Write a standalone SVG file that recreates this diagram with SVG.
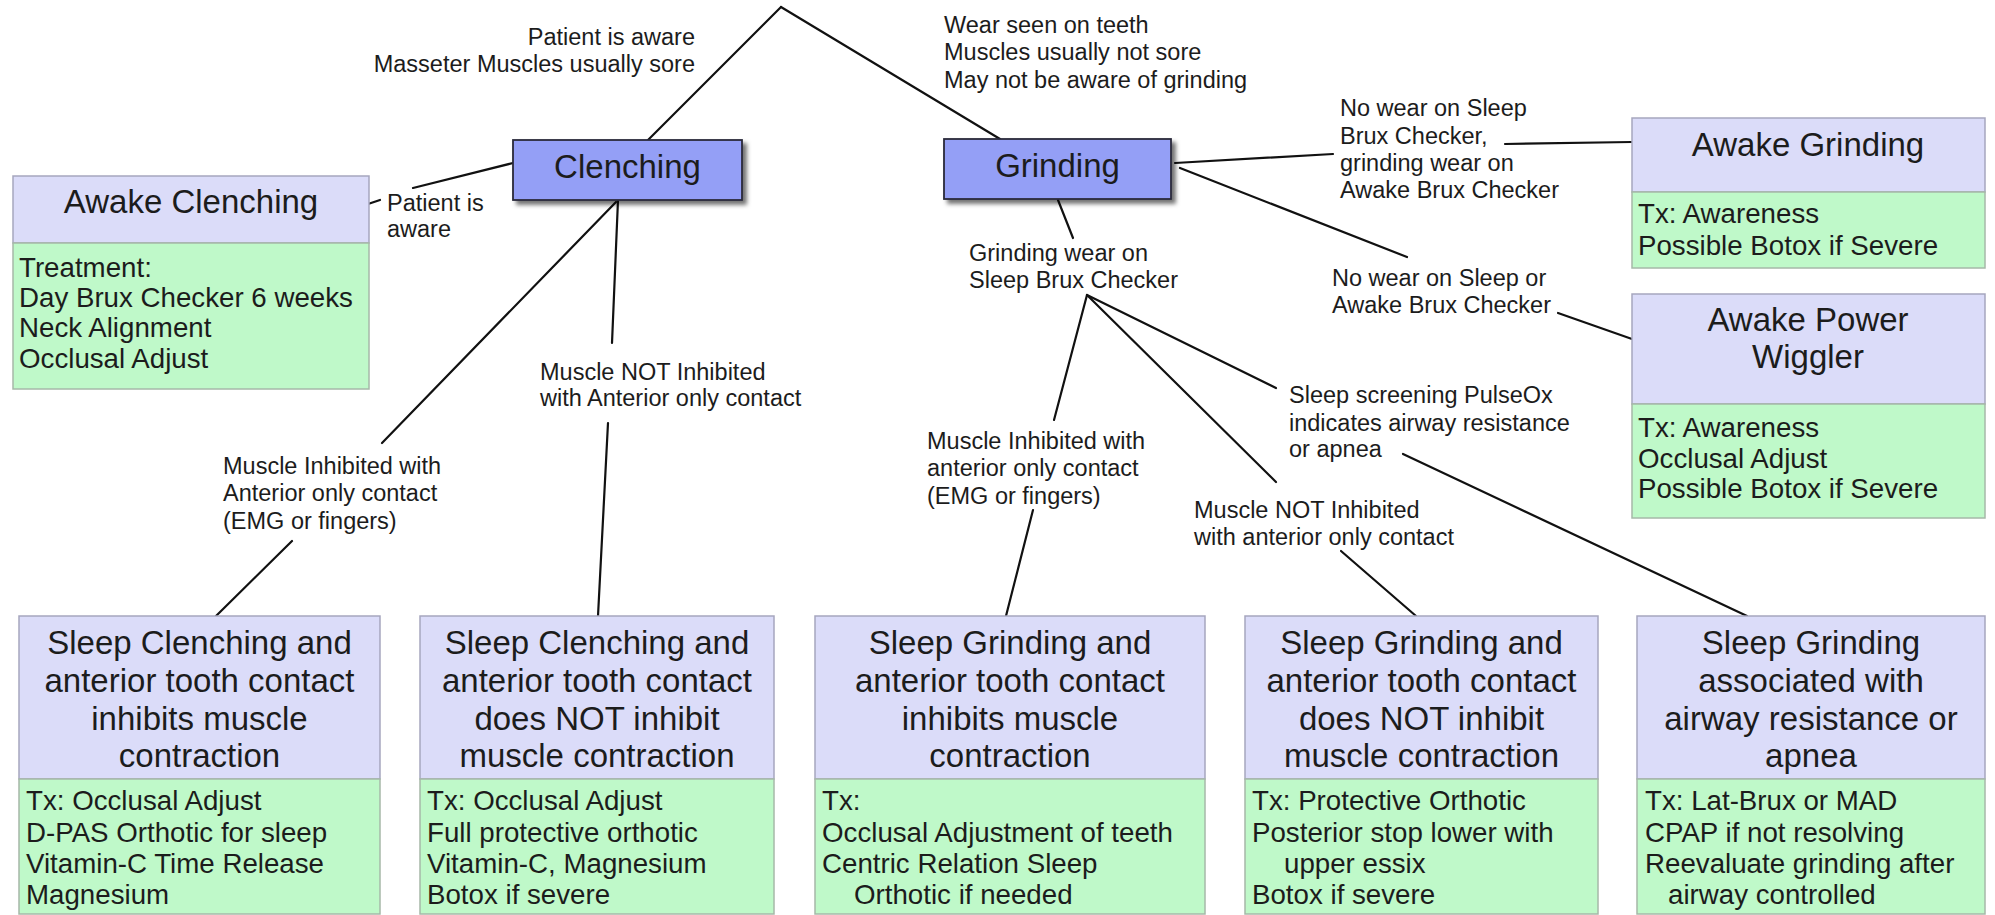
<svg xmlns="http://www.w3.org/2000/svg" width="1995" height="915" viewBox="0 0 1995 915">
<defs>
<style>
text{font-family:"Liberation Sans",Arial,sans-serif;fill:#1c1c1c}
.lbl{font-size:23.5px}
.ttl{font-size:33px;text-anchor:middle}
.bd{font-size:27.7px}
.hdr{fill:#dbdcf9;stroke:#a6a6be;stroke-width:1.5}
.body{fill:#bff9c9;stroke:#a6b8a8;stroke-width:1.5}
.main{fill:#949ff6;stroke:#2a2a3a;stroke-width:1.8}
#connectors line{stroke:#111;stroke-width:2.2;stroke-linecap:round}
</style>
<filter id="sh" x="-10%" y="-20%" width="130%" height="150%">
<feDropShadow dx="4" dy="4" stdDeviation="2" flood-color="#000" flood-opacity="0.55"/>
</filter>
</defs>
<rect width="1995" height="915" fill="#fff"/>

<g id="connectors">
<line x1="781" y1="7" x2="648" y2="140"/>
<line x1="781" y1="7" x2="1000" y2="139"/>
<line x1="368" y1="204" x2="380" y2="200"/>
<line x1="413" y1="188" x2="513" y2="163"/>
<line x1="618" y1="200" x2="612" y2="343"/>
<line x1="608" y1="423" x2="598" y2="616"/>
<line x1="616" y1="202" x2="382" y2="443"/>
<line x1="292" y1="541" x2="216" y2="616"/>
<line x1="1175" y1="163" x2="1333" y2="154"/>
<line x1="1505" y1="144" x2="1632" y2="142"/>
<line x1="1180" y1="168" x2="1407" y2="257"/>
<line x1="1558" y1="313" x2="1632" y2="339"/>
<line x1="1058" y1="200" x2="1073" y2="238"/>
<line x1="1087" y1="295" x2="1054" y2="420"/>
<line x1="1033" y1="510" x2="1006" y2="616"/>
<line x1="1087" y1="295" x2="1276" y2="482"/>
<line x1="1341" y1="551" x2="1416" y2="616"/>
<line x1="1087" y1="295" x2="1276" y2="388"/>
<line x1="1403" y1="454" x2="1747" y2="616"/>
</g>

<g id="labels">
<text class="lbl" text-anchor="end" x="695" y="45">Patient is aware</text>
<text class="lbl" text-anchor="end" x="695" y="72">Masseter Muscles usually sore</text>
<text class="lbl" x="944" y="33">Wear seen on teeth</text>
<text class="lbl" x="944" y="60">Muscles usually not sore</text>
<text class="lbl" x="944" y="88">May not be aware of grinding</text>
<text class="lbl" x="387" y="211">Patient is</text>
<text class="lbl" x="387" y="237">aware</text>
<text class="lbl" x="540" y="380">Muscle NOT Inhibited</text>
<text class="lbl" x="540" y="406">with Anterior only contact</text>
<text class="lbl" x="223" y="474">Muscle Inhibited with</text>
<text class="lbl" x="223" y="501">Anterior only contact</text>
<text class="lbl" x="223" y="529">(EMG or fingers)</text>
<text class="lbl" x="1340" y="116">No wear on Sleep</text>
<text class="lbl" x="1340" y="144">Brux Checker,</text>
<text class="lbl" x="1340" y="171">grinding wear on</text>
<text class="lbl" x="1340" y="198">Awake Brux Checker</text>
<text class="lbl" x="1332" y="286">No wear on Sleep or</text>
<text class="lbl" x="1332" y="313">Awake Brux Checker</text>
<text class="lbl" x="969" y="261">Grinding wear on</text>
<text class="lbl" x="969" y="288">Sleep Brux Checker</text>
<text class="lbl" x="927" y="449">Muscle Inhibited with</text>
<text class="lbl" x="927" y="476">anterior only contact</text>
<text class="lbl" x="927" y="504">(EMG or fingers)</text>
<text class="lbl" x="1194" y="518">Muscle NOT Inhibited</text>
<text class="lbl" x="1194" y="545">with anterior only contact</text>
<text class="lbl" x="1289" y="403">Sleep screening PulseOx</text>
<text class="lbl" x="1289" y="431">indicates airway resistance</text>
<text class="lbl" x="1289" y="457">or apnea</text>
</g>

<g id="clenching">
<rect class="main" x="513" y="140" width="229" height="60" filter="url(#sh)"/>
<text class="ttl" x="627.5" y="178">Clenching</text>
</g>
<g id="grinding">
<rect class="main" x="944" y="139" width="227" height="60" filter="url(#sh)"/>
<text class="ttl" x="1057.5" y="177">Grinding</text>
</g>

<g id="awake-clenching">
<rect class="hdr" x="13" y="176" width="356" height="67"/>
<rect class="body" x="13" y="243" width="356" height="146"/>
<text class="ttl" x="191" y="213">Awake Clenching</text>
<text class="bd" x="19" y="277">Treatment:</text>
<text class="bd" x="19" y="307">Day Brux Checker 6 weeks</text>
<text class="bd" x="19" y="337">Neck Alignment</text>
<text class="bd" x="19" y="368">Occlusal Adjust</text>
</g>

<g id="awake-grinding">
<rect class="hdr" x="1632" y="118" width="353" height="74"/>
<rect class="body" x="1632" y="192" width="353" height="76"/>
<text class="ttl" x="1808" y="156">Awake Grinding</text>
<text class="bd" x="1638" y="223">Tx: Awareness</text>
<text class="bd" x="1638" y="255">Possible Botox if Severe</text>
</g>

<g id="awake-power-wiggler">
<rect class="hdr" x="1632" y="294" width="353" height="110"/>
<rect class="body" x="1632" y="404" width="353" height="114"/>
<text class="ttl" x="1808" y="331">Awake Power</text>
<text class="ttl" x="1808" y="368">Wiggler</text>
<text class="bd" x="1638" y="437">Tx: Awareness</text>
<text class="bd" x="1638" y="468">Occlusal Adjust</text>
<text class="bd" x="1638" y="498">Possible Botox if Severe</text>
</g>

<g id="sleep-clenching-inhibits">
<rect class="hdr" x="19" y="616" width="361" height="163"/>
<rect class="body" x="19" y="779" width="361" height="135"/>
<text class="ttl" x="199.5" y="654">Sleep Clenching and</text>
<text class="ttl" x="199.5" y="692">anterior tooth contact</text>
<text class="ttl" x="199.5" y="730">inhibits muscle</text>
<text class="ttl" x="199.5" y="767">contraction</text>
<text class="bd" x="26" y="810">Tx: Occlusal Adjust</text>
<text class="bd" x="26" y="842">D-PAS Orthotic for sleep</text>
<text class="bd" x="26" y="873">Vitamin-C Time Release</text>
<text class="bd" x="26" y="904">Magnesium</text>
</g>

<g id="sleep-clenching-not-inhibit">
<rect class="hdr" x="420" y="616" width="354" height="163"/>
<rect class="body" x="420" y="779" width="354" height="135"/>
<text class="ttl" x="597" y="654">Sleep Clenching and</text>
<text class="ttl" x="597" y="692">anterior tooth contact</text>
<text class="ttl" x="597" y="730">does NOT inhibit</text>
<text class="ttl" x="597" y="767">muscle contraction</text>
<text class="bd" x="427" y="810">Tx: Occlusal Adjust</text>
<text class="bd" x="427" y="842">Full protective orthotic</text>
<text class="bd" x="427" y="873">Vitamin-C, Magnesium</text>
<text class="bd" x="427" y="904">Botox if severe</text>
</g>

<g id="sleep-grinding-inhibits">
<rect class="hdr" x="815" y="616" width="390" height="163"/>
<rect class="body" x="815" y="779" width="390" height="135"/>
<text class="ttl" x="1010" y="654">Sleep Grinding and</text>
<text class="ttl" x="1010" y="692">anterior tooth contact</text>
<text class="ttl" x="1010" y="730">inhibits muscle</text>
<text class="ttl" x="1010" y="767">contraction</text>
<text class="bd" x="822" y="810">Tx:</text>
<text class="bd" x="822" y="842">Occlusal Adjustment of teeth</text>
<text class="bd" x="822" y="873">Centric Relation Sleep</text>
<text class="bd" x="854" y="904">Orthotic if needed</text>
</g>

<g id="sleep-grinding-not-inhibit">
<rect class="hdr" x="1245" y="616" width="353" height="163"/>
<rect class="body" x="1245" y="779" width="353" height="135"/>
<text class="ttl" x="1421.5" y="654">Sleep Grinding and</text>
<text class="ttl" x="1421.5" y="692">anterior tooth contact</text>
<text class="ttl" x="1421.5" y="730">does NOT inhibit</text>
<text class="ttl" x="1421.5" y="767">muscle contraction</text>
<text class="bd" x="1252" y="810">Tx: Protective Orthotic</text>
<text class="bd" x="1252" y="842">Posterior stop lower with</text>
<text class="bd" x="1284" y="873">upper essix</text>
<text class="bd" x="1252" y="904">Botox if severe</text>
</g>

<g id="sleep-grinding-airway">
<rect class="hdr" x="1637" y="616" width="348" height="163"/>
<rect class="body" x="1637" y="779" width="348" height="135"/>
<text class="ttl" x="1811" y="654">Sleep Grinding</text>
<text class="ttl" x="1811" y="692">associated with</text>
<text class="ttl" x="1811" y="730">airway resistance or</text>
<text class="ttl" x="1811" y="767">apnea</text>
<text class="bd" x="1645" y="810">Tx: Lat-Brux or MAD</text>
<text class="bd" x="1645" y="842">CPAP if not resolving</text>
<text class="bd" x="1645" y="873">Reevaluate grinding after</text>
<text class="bd" x="1668" y="904">airway controlled</text>
</g>
</svg>
